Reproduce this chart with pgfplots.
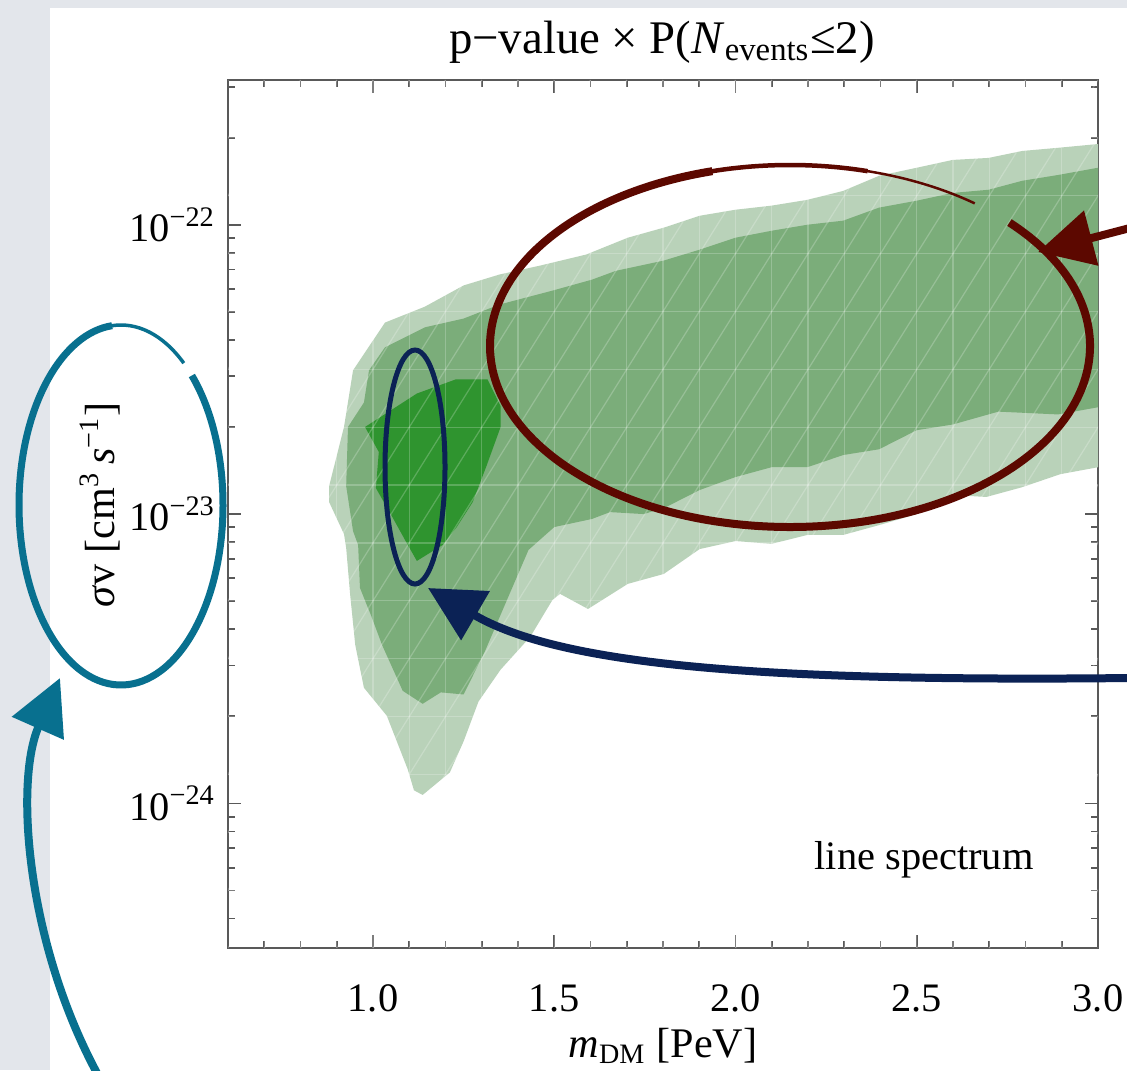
\documentclass[border=0pt]{standalone}
\usepackage{fontspec}
\setmainfont{Liberation Serif}
\usepackage{pgfplots}
\pgfplotsset{compat=1.18}
\usetikzlibrary{arrows.meta}
\definecolor{bgray}{HTML}{E3E6EB}
\definecolor{outerc}{HTML}{B9D2B9}
\definecolor{midc}{HTML}{7BAD7A}
\definecolor{innerc}{HTML}{2F942F}
\definecolor{redann}{HTML}{5C0800}
\definecolor{navyann}{HTML}{0B2255}
\definecolor{tealann}{HTML}{08708F}
\begin{document}
\begin{tikzpicture}
\useasboundingbox (0,0) rectangle (11.27,10.70);
\fill[bgray] (0,0) rectangle (11.27,10.70);
\fill[white] (0.50,0) rectangle (11.27,10.62);
\begin{axis}[
  at={(2.28cm,1.22cm)}, anchor=south west, scale only axis,
  width=8.70cm, height=8.68cm,
  xmin=0.6, xmax=3.0, ymode=log, ymin=3.1623e-25, ymax=3.1623e-22,
  xtick={1.0,1.5,2.0,2.5,3.0}, xticklabels={1.0,1.5,2.0,2.5,3.0},
  minor xtick={0.6,0.7,0.8,0.9,1.1,1.2,1.3,1.4,1.6,1.7,1.8,1.9,2.1,2.2,2.3,2.4,2.6,2.7,2.8,2.9},
  ytick={1e-24,1e-23,1e-22},
  yticklabels={10\textsuperscript{−24},10\textsuperscript{−23},10\textsuperscript{−22}},
  minor ytick={4e-25,5e-25,6e-25,7e-25,8e-25,9e-25,2e-24,3e-24,4e-24,5e-24,6e-24,7e-24,8e-24,9e-24,2e-23,3e-23,4e-23,5e-23,6e-23,7e-23,8e-23,9e-23,2e-22,3e-22},
  tick align=inside, major tick length=1.3mm, minor tick length=0.7mm,
  axis line style={draw=black!65, line width=0.5pt},
  every tick/.style={black!65, line width=0.5pt},
  xticklabel style={font=\fontsize{11.5}{13}\selectfont, yshift=-2.4mm},
  yticklabel style={font=\fontsize{11.5}{13}\selectfont},
  /pgf/number format/assume math mode=true,
]
% outer (light) region
\addplot[fill=outerc, draw=none] coordinates {
(1.033,4.59e-23) (1.143,5.21e-23) (1.250,6.17e-23) (1.349,6.73e-23) (1.462,7.23e-23)
(1.588,7.89e-23) (1.703,9.02e-23) (1.802,9.77e-23) (1.901,1.074e-22) (2.000,1.127e-22)
(2.099,1.164e-22) (2.198,1.219e-22) (2.297,1.309e-22) (2.396,1.476e-22) (2.500,1.574e-22)
(2.599,1.675e-22) (2.698,1.702e-22) (2.791,1.799e-22) (2.890,1.845e-22) (3.0,1.901e-22)
(3.0,1.452e-23) (2.896,1.374e-23) (2.791,1.239e-23) (2.692,1.146e-23) (2.599,1.164e-23)
(2.500,1.0e-23) (2.396,9.16e-24) (2.297,8.47e-24) (2.198,8.47e-24) (2.099,7.89e-24)
(2.000,8.07e-24) (1.901,7.57e-24) (1.802,6.21e-24) (1.703,5.74e-24) (1.593,4.70e-24)
(1.516,5.30e-24) (1.495,5.05e-24) (1.434,3.77e-24) (1.352,2.90e-24) (1.291,2.25e-24)
(1.250,1.64e-24) (1.212,1.28e-24) (1.137,1.07e-24) (1.113,1.11e-24) (1.096,1.31e-24)
(1.038,2.01e-24) (0.975,2.51e-24) (0.951,3.53e-24) (0.937,5.26e-24) (0.926,7.64e-24)
(0.920,8.53e-24) (0.879,1.10e-23) (0.879,1.25e-23) (0.920,2.0e-23) (0.945,3.14e-23)
} --cycle;
% middle region
\addplot[fill=midc, draw=none] coordinates {
(1.033,3.77e-23) (1.143,4.42e-23) (1.250,4.74e-23) (1.349,5.30e-23) (1.495,5.92e-23)
(1.604,6.46e-23) (1.670,6.93e-23) (1.802,7.52e-23) (1.901,8.20e-23) (2.000,9.02e-23)
(2.099,9.53e-23) (2.198,1.0e-22) (2.297,1.033e-22) (2.396,1.146e-22) (2.500,1.211e-22)
(2.599,1.288e-22) (2.698,1.321e-22) (2.791,1.419e-22) (2.890,1.486e-22) (3.0,1.574e-22)
(3.0,2.34e-23) (2.890,2.21e-23) (2.725,2.26e-23) (2.599,2.04e-23) (2.500,1.95e-23)
(2.396,1.675e-23) (2.297,1.60e-23) (2.198,1.452e-23) (2.099,1.452e-23) (2.000,1.343e-23)
(1.901,1.211e-23) (1.808,1.057e-23) (1.747,1.0e-23) (1.654,1.016e-23) (1.604,9.62e-24)
(1.500,9.02e-24) (1.429,7.52e-24) (1.379,5.38e-24) (1.308,3.34e-24) (1.250,2.38e-24)
(1.187,2.42e-24) (1.137,2.21e-24) (1.082,2.45e-24) (1.025,3.53e-24) (0.995,4.45e-24)
(0.964,5.56e-24) (0.959,7.82e-24) (0.945,8.73e-24) (0.926,1.25e-23) (0.931,2.0e-23)
(0.975,2.43e-23) (0.989,3.14e-23)
} --cycle;
% inner region
\addplot[fill=innerc, draw=none] coordinates {
(0.978,2.0e-23) (1.121,2.61e-23) (1.228,2.92e-23) (1.316,2.92e-23) (1.352,2.36e-23)
(1.352,2.0e-23) (1.313,1.466e-23) (1.275,1.10e-23) (1.231,9.02e-24) (1.192,7.82e-24)
(1.121,6.89e-24) (1.096,7.82e-24) (1.052,9.84e-24) (1.008,1.23e-23) (1.016,1.64e-23)
} --cycle;
\end{axis}
% faint mesh lines of the original rendering
\begin{scope}
\clip (2.28,1.22) rectangle (10.98,9.90);
\foreach \i in {1,...,23} \draw[white, opacity=0.22, line width=0.35pt] ({2.28+0.3625*\i},1.22) -- ++(0,8.68);
\foreach \j in {1,...,14} \draw[white, opacity=0.22, line width=0.35pt] (2.28,{1.22+0.578667*\j}) -- ++(8.70,0);
\foreach \i in {-15,...,24} \draw[white, opacity=0.22, line width=0.35pt] ({2.28+0.3625*\i},1.22) -- ++(5.4375,8.68);
\end{scope}
% texts
\node[font=\fontsize{13.3}{15}\selectfont] at (6.62,10.28) {p−value × P(\textit{N}\textsubscript{events}≤2)};
\node[font=\fontsize{11.5}{13}\selectfont] at (9.24,2.10) {line spectrum};
\node[font=\fontsize{12}{14}\selectfont] at (6.63,0.24) {\textit{m}\textsubscript{DM} [PeV]};
\node[font=\fontsize{12}{14}\selectfont, rotate=90] at (1.00,5.65) {\textit{σ}v [cm\textsuperscript{3}\,\textit{s}\textsuperscript{−1}]};
% annotations
\draw[redann, line width=0.8mm] (7.90,7.24) ++(43:3.0cm and 1.81cm) arc[start angle=43, end angle=-255, x radius=3.0cm, y radius=1.81cm];
\draw[redann, line width=0.45mm] (7.90,7.24) ++(106:3.0cm and 1.81cm) arc[start angle=106, end angle=75, x radius=3.0cm, y radius=1.81cm];
\draw[redann, line width=0.25mm] (7.90,7.24) ++(76:3.0cm and 1.81cm) arc[start angle=76, end angle=52, x radius=3.0cm, y radius=1.81cm];
\draw[redann, line width=0.8mm, -{Triangle[length=5.5mm, width=5.5mm]}] (11.30,8.42) -- (10.38,8.18);
\draw[navyann, line width=0.5mm] (4.15,6.03) ellipse[x radius=0.30cm, y radius=1.17cm];
\draw[navyann, line width=0.8mm, -{Triangle[length=5.5mm, width=5.5mm]}] (11.30,3.92) .. controls (7.6,3.88) and (5.6,4.05) .. (4.28,4.82);
\draw[tealann, line width=0.7mm] (1.21,5.65) ++(46:1.02cm and 1.80cm) arc[start angle=46, end angle=-265, x radius=1.02cm, y radius=1.80cm];
\draw[tealann, line width=0.35mm] (1.21,5.65) ++(96:1.02cm and 1.80cm) arc[start angle=96, end angle=52, x radius=1.02cm, y radius=1.80cm];
\draw[tealann, line width=0.8mm, -{Triangle[length=5.5mm, width=5.5mm]}] (0.98,-0.05) .. controls (0.25,1.3) and (0.15,2.9) .. (0.60,3.92);
\end{tikzpicture}
\end{document}
